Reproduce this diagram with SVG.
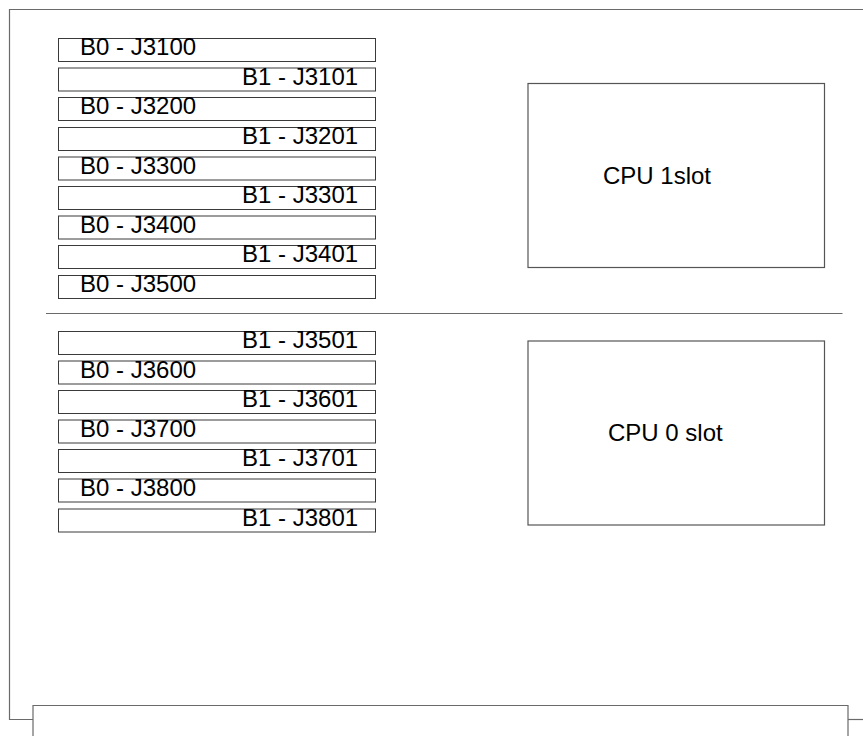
<svg xmlns="http://www.w3.org/2000/svg" width="863" height="736" viewBox="0 0 863 736">
<style>
.board{fill:none;stroke:#6a6a6a;stroke-width:1.2}
.slot{fill:#fff;stroke:#3a3a3a;stroke-width:1}
.cpu{fill:#fff;stroke:#555;stroke-width:1.2}
.t{font-family:"Liberation Sans",Arial,sans-serif;font-size:24px;fill:#000}
</style>
<rect width="863" height="736" fill="#fff"/>
<g id="board">
<path class="board" d="M863,9.5 H9.5 V719.5 H33"/>
<path class="board" d="M848,719.5 H863"/>
<path class="board" d="M33,740 V705.5 H848 V740"/>
<path class="board" d="M46,313.5 H842.5"/>
</g>
<g id="connectors"></g>
<g id="slot-J3100"><rect class="slot" x="58.5" y="38.5" width="317" height="23"/><text class="t" x="80" y="55">B0 - J3100</text></g>
<g id="slot-J3101"><rect class="slot" x="58.5" y="68" width="317" height="23"/><text class="t" x="242" y="84.5">B1 - J3101</text></g>
<g id="slot-J3200"><rect class="slot" x="58.5" y="97.5" width="317" height="23"/><text class="t" x="80" y="114">B0 - J3200</text></g>
<g id="slot-J3201"><rect class="slot" x="58.5" y="127.5" width="317" height="23"/><text class="t" x="242" y="144">B1 - J3201</text></g>
<g id="slot-J3300"><rect class="slot" x="58.5" y="157" width="317" height="23"/><text class="t" x="80" y="173.5">B0 - J3300</text></g>
<g id="slot-J3301"><rect class="slot" x="58.5" y="186.5" width="317" height="23"/><text class="t" x="242" y="203">B1 - J3301</text></g>
<g id="slot-J3400"><rect class="slot" x="58.5" y="216" width="317" height="23"/><text class="t" x="80" y="232.5">B0 - J3400</text></g>
<g id="slot-J3401"><rect class="slot" x="58.5" y="245.5" width="317" height="23"/><text class="t" x="242" y="262">B1 - J3401</text></g>
<g id="slot-J3500"><rect class="slot" x="58.5" y="275.5" width="317" height="23"/><text class="t" x="80" y="292">B0 - J3500</text></g>
<g id="slot-J3501"><rect class="slot" x="58.5" y="331.5" width="317" height="23"/><text class="t" x="242" y="348">B1 - J3501</text></g>
<g id="slot-J3600"><rect class="slot" x="58.5" y="361" width="317" height="23"/><text class="t" x="80" y="377.5">B0 - J3600</text></g>
<g id="slot-J3601"><rect class="slot" x="58.5" y="390.5" width="317" height="23"/><text class="t" x="242" y="407">B1 - J3601</text></g>
<g id="slot-J3700"><rect class="slot" x="58.5" y="420" width="317" height="23"/><text class="t" x="80" y="436.5">B0 - J3700</text></g>
<g id="slot-J3701"><rect class="slot" x="58.5" y="449.5" width="317" height="23"/><text class="t" x="242" y="466">B1 - J3701</text></g>
<g id="slot-J3800"><rect class="slot" x="58.5" y="479" width="317" height="23"/><text class="t" x="80" y="495.5">B0 - J3800</text></g>
<g id="slot-J3801"><rect class="slot" x="58.5" y="509" width="317" height="23"/><text class="t" x="242" y="525.5">B1 - J3801</text></g>
<g id="cpu1"><rect class="cpu" x="528" y="83.5" width="296.5" height="184"/><text class="t" x="603" y="183.5">CPU 1slot</text></g>
<g id="cpu0"><rect class="cpu" x="528" y="341" width="296.5" height="184"/><text class="t" x="608" y="441">CPU 0 slot</text></g>
</svg>
